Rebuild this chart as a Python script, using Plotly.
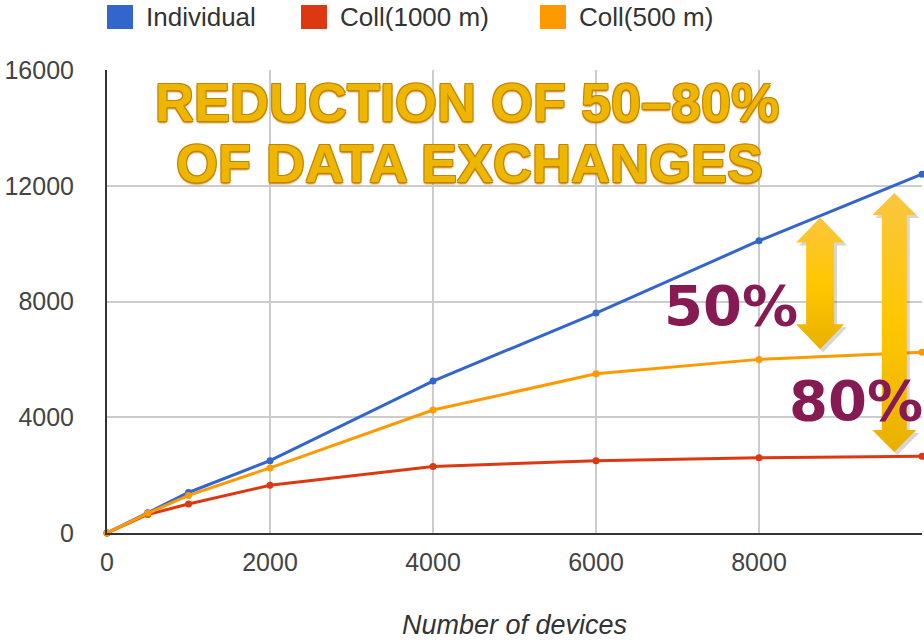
import plotly.graph_objects as go

# Data exchanges versus number of devices
devices = [0, 500, 1000, 2000, 4000, 6000, 8000, 10000]
individual = [0, 700, 1400, 2500, 5250, 7600, 10100, 12400]
coll_1000 = [0, 640, 1000, 1650, 2300, 2500, 2600, 2650]
coll_500 = [0, 680, 1300, 2250, 4250, 5500, 6000, 6250]

series_names = ["Individual", "Coll(1000 m)", "Coll(500 m)"]
series_values = [individual, coll_1000, coll_500]
series_colors = ["#3366CC", "#DC3912", "#FF9900"]

x_ticks = [0, 2000, 4000, 6000, 8000]
y_ticks = [0, 4000, 8000, 12000, 16000]

W, H = 924, 642
L, R, T, B = 107, 2, 70, 109
X_MAX, Y_MAX = 10000, 16000
plot_w, plot_h = W - L - R, H - T - B
ux = X_MAX / plot_w   # data units per pixel, x
uy = Y_MAX / plot_h   # data units per pixel, y

fig = go.Figure()

for name, vals, col in zip(series_names, series_values, series_colors):
    fig.add_trace(go.Scatter(
        x=devices, y=vals, name=name, mode="lines+markers",
        line=dict(color=col, width=3),
        marker=dict(color=col, size=7),
        showlegend=False, cliponaxis=False,
    ))

# Double-headed gap arrows: (x centre, top, bottom, head half-width px, shaft half-width px, head length px)
gap_arrows = [
    (8750, 10900, 6350, 24, 14, 25),
    (9660, 11750, 2800, 22, 12.5, 22),
]


def arrow_outline(xc, top, bot, hw, sw, hl):
    hx, sx, hy = hw * ux, sw * ux, hl * uy
    xs = [xc, xc + hx, xc + sx, xc + sx, xc + hx, xc, xc - hx, xc - sx, xc - sx, xc - hx, xc]
    ys = [top, top - hy, top - hy, bot + hy, bot + hy, bot, bot + hy, bot + hy, top - hy, top - hy, top]
    return xs, ys


for xc, top, bot, hw, sw, hl in gap_arrows:
    xs, ys = arrow_outline(xc, top, bot, hw, sw, hl)
    # soft drop shadow
    fig.add_trace(go.Scatter(
        x=[v + 3 * ux for v in xs], y=[v - 3 * uy for v in ys],
        fill="toself", fillcolor="rgba(90,90,90,0.25)", mode="lines",
        line=dict(width=0, color="rgba(0,0,0,0)"), showlegend=False, hoverinfo="skip",
    ))
    fig.add_trace(go.Scatter(
        x=xs, y=ys, fill="toself", mode="lines",
        fillgradient=dict(type="vertical",
                          colorscale=[[0, "#E9B000"], [0.5, "#FFC700"], [1, "#FBC63E"]]),
        line=dict(width=0, color="rgba(0,0,0,0)"), showlegend=False, hoverinfo="skip",
    ))

# Legend: coloured squares with labels across the top
legend_px = [107, 301, 540]
for name, col, px in zip(series_names, series_colors, legend_px):
    fig.add_shape(type="rect", xref="paper", yref="paper",
                  x0=(px - L) / plot_w, x1=(px + 26 - L) / plot_w,
                  y0=(H - B - 29) / plot_h, y1=(H - B - 5) / plot_h,
                  fillcolor=col, line=dict(width=0))
    fig.add_annotation(xref="paper", yref="paper", x=(px + 37 - L) / plot_w,
                       y=(H - B - 17) / plot_h, text=name, showarrow=False,
                       xanchor="left", yanchor="middle",
                       font=dict(family="Liberation Sans, Arial", size=26, color="#333333"))

# Headline
gold_shadow = ("1px 1px 0 #C98200, -1px -1px 0 #C98200, 1px -1px 0 #C98200, "
               "-1px 1px 0 #C98200, 0 2px 2px #B87300")
for text, px, py in [("REDUCTION OF 50–80%", 467, 102), ("OF DATA EXCHANGES", 469, 163)]:
    fig.add_annotation(xref="paper", yref="paper", x=(px - L) / plot_w,
                       y=(H - B - py) / plot_h, text=text, showarrow=False,
                       xanchor="center", yanchor="middle",
                       font=dict(family="Liberation Sans, Arial", size=54,
                                 weight="bold", color="#EDB600", shadow=gold_shadow))

# Percentage labels
for text, xv, yv in [("50%", 7656, 7845), ("80%", 9190, 4562)]:
    fig.add_annotation(x=xv, y=yv, text=text, showarrow=False,
                       xanchor="center", yanchor="middle",
                       font=dict(family="DejaVu Sans", size=56, weight="bold", color="#861B54"))

axis_font = dict(family="Liberation Sans, Arial", size=25, color="#444444")
fig.update_xaxes(
    range=[0, X_MAX], tickvals=x_ticks, ticktext=[str(v) for v in x_ticks],
    showgrid=True, gridcolor="#CCCCCC", gridwidth=1.5,
    showline=True, linecolor="#333333", linewidth=2,
    zeroline=False, tickfont=axis_font, ticklabelstandoff=6,
    title=dict(text="Number of devices", standoff=40,
               font=dict(family="Liberation Sans, Arial", size=27, color="#333333", style="italic")),
)
fig.update_yaxes(
    range=[0, Y_MAX], tickvals=y_ticks, ticktext=[str(v) for v in y_ticks],
    showgrid=True, gridcolor="#CCCCCC", gridwidth=1.5,
    showline=True, linecolor="#333333", linewidth=2,
    zeroline=False, tickfont=axis_font, ticklabelstandoff=26,
)
fig.update_layout(
    width=W, height=H, margin=dict(l=L, r=R, t=T, b=B),
    paper_bgcolor="white", plot_bgcolor="white", showlegend=False,
)

fig.write_html("out.html")
